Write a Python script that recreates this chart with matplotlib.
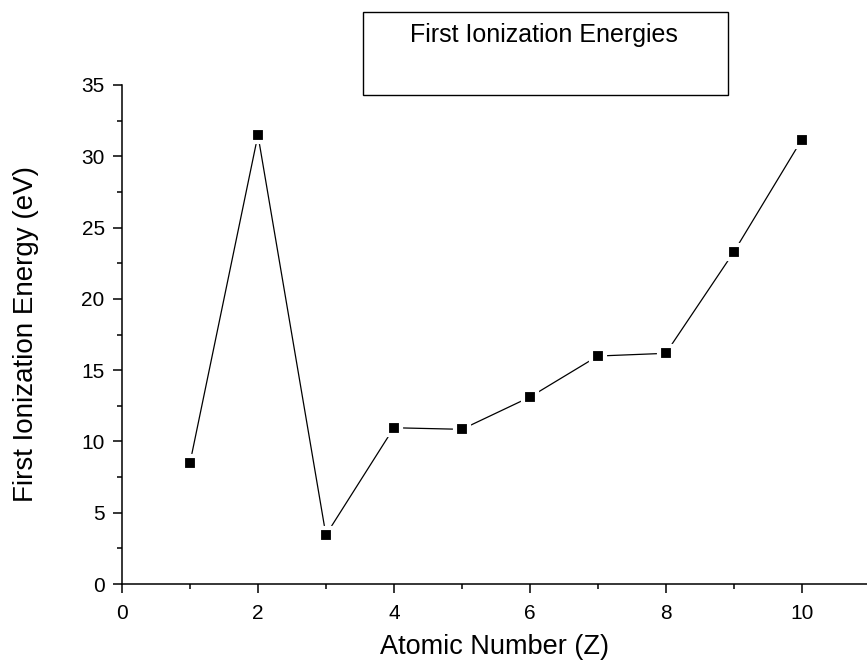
import numpy as np
import matplotlib.pyplot as plt
from matplotlib.ticker import MultipleLocator

plt.rcParams['font.family'] = ['Liberation Sans', 'DejaVu Sans']

# valeurs
atomic_number = [1, 2, 3, 4, 5, 6, 7, 8, 9, 10]
energy_ev = [8.49, 31.49, 3.44, 10.96, 10.85, 13.11, 15.99, 16.18, 23.28, 31.16]

fig = plt.figure(figsize=(8.67, 6.69), dpi=100)
ax = fig.add_axes([0.1407, 0.127, 0.8593, 0.746])

ax.plot(atomic_number, energy_ev, '-', color='black', lw=0.9, zorder=2)
ax.plot(atomic_number, energy_ev, 's', color='black', ms=10, mfc='black',
        mec='white', mew=3, zorder=3)

ax.set_xlim(0, 10.96)
ax.set_ylim(0, 35)
ax.xaxis.set_major_locator(MultipleLocator(2))
ax.xaxis.set_minor_locator(MultipleLocator(1))
ax.yaxis.set_major_locator(MultipleLocator(5))
ax.yaxis.set_minor_locator(MultipleLocator(2.5))

for s in ['top', 'right']:
    ax.spines[s].set_visible(False)
for s in ['left', 'bottom']:
    ax.spines[s].set_linewidth(1.1)
ax.tick_params(which='major', direction='out', length=6.5, width=1.1, labelsize=15)
ax.tick_params(axis='y', which='major', pad=6)
ax.tick_params(axis='x', which='major', pad=8)
ax.tick_params(which='minor', direction='out', length=3.6, width=1.1)

ax.set_xlabel('Atomic Number (Z)', fontsize=19.5)
ax.set_ylabel('First Ionization Energy (eV)', fontsize=20)
ax.xaxis.set_label_coords(0.5, -0.1)
ax.yaxis.set_label_coords(-0.111, 0.5)

# encadré du titre (style Origin)
fig.patches.append(plt.Rectangle((363 / 867, 1 - 95 / 669), 365 / 867, 83 / 669,
                                 transform=fig.transFigure, fill=False,
                                 edgecolor='black', lw=1.0))
fig.text(544 / 867, 1 - 42 / 669, 'First Ionization Energies', ha='center',
         va='baseline', fontsize=18)

fig.savefig('out.png', dpi=100)
